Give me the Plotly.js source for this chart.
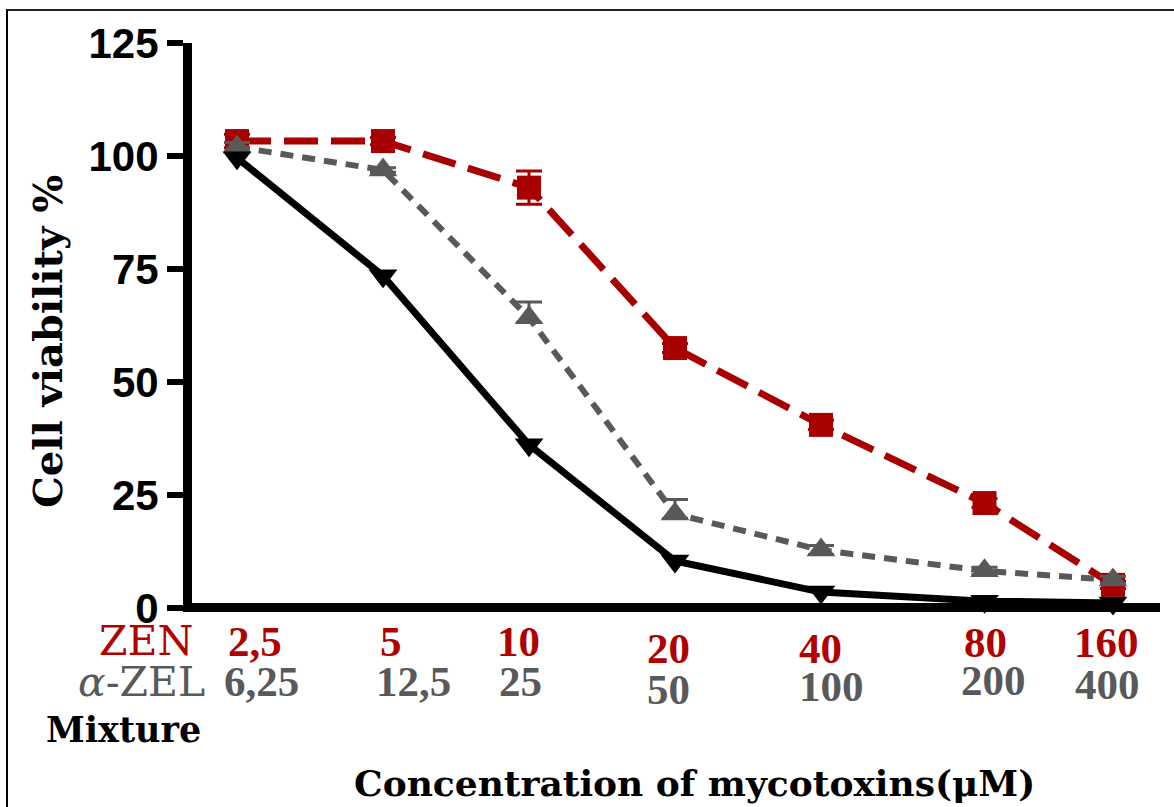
<!DOCTYPE html>
<html>
<head>
<meta charset="utf-8">
<script src="https://cdn.plot.ly/plotly-3.0.1.min.js"></script>
<style>
  html, body { margin: 0; padding: 0; background: #ffffff; }
  #frame { position: absolute; left: 6px; top: 9px; width: 1300px; height: 900px;
           border-left: 2px solid #000; border-top: 2px solid #222; z-index: 0; }
  #chart { position: absolute; left: 0; top: 0; width: 1174px; height: 807px; z-index: 1; }
</style>
</head>
<body>
<div id="frame"></div>
<div id="chart"></div>
<script>
// ---- data ----
const xPlot = [1, 2, 3, 4, 5, 6.12, 7];            // plotting positions of the 7 doses
const zenLabels = ['2,5', '5', '10', '20', '40', '80', '160'];
const zelLabels = ['6,25', '12,5', '25', '50', '100', '200', '400'];
const zenViability = [103.3, 103.3, 93.0, 57.5, 40.5, 23.2, 5.1];
const zenErr       = [1.5, 0.8, 3.7, 1.0, 1.0, 1.0, 0.8];
const zelViability = [102.0, 96.9, 64.2, 20.8, 12.8, 8.2, 6.2];
const zelErrUp     = [1.0, 0.5, 3.5, 3.2, 1.0, 0.8, 0.8];
const zelErrDown   = [1.0, 0.5, 1.0, 1.0, 1.0, 0.8, 0.8];
const mixViability = [99.6, 73.5, 36.1, 10.4, 3.5, 1.5, 1.1];
const yTicks = [0, 25, 50, 75, 100, 125];

// ---- styling / layout constants ----
const RED = '#a80000', LABELRED = '#b00000', GRAY = '#595959', BLACK = '#000000';
const L = 192, R = 14, T = 43, B = 195, WIDTH = 1174, HEIGHT = 807;
const W = WIDTH - L - R, H = HEIGHT - T - B;
const px = v => (v - L) / W;
const py = v => (T + H - v) / H;

const traces = [
  { x: xPlot, y: zenViability, name: 'ZEN', type: 'scatter', mode: 'lines+markers', cliponaxis: false,
    line: { color: RED, width: 7, dash: '34px,13px' },
    marker: { symbol: 'square', size: 24, color: RED },
    error_y: { type: 'data', array: zenErr, visible: true, color: RED, thickness: 3, width: 13 } },
  { x: xPlot, y: zelViability, name: 'α-ZEL', type: 'scatter', mode: 'lines+markers', cliponaxis: false,
    line: { color: GRAY, width: 6, dash: '13px,9px' },
    marker: { symbol: 'triangle-up', size: 25, color: GRAY },
    error_y: { type: 'data', symmetric: false, array: zelErrUp, arrayminus: zelErrDown, visible: true,
               color: GRAY, thickness: 3, width: 13 } },
  { x: xPlot, y: mixViability, name: 'Mixture', type: 'scatter', mode: 'lines+markers', cliponaxis: false,
    line: { color: BLACK, width: 7 },
    marker: { symbol: 'triangle-down', size: 25, color: BLACK } }
];

const serif = 'DejaVu Serif, serif';
const numFont = 'Liberation Serif, Times New Roman, serif';
const redY = [641, 641, 641, 648, 648, 642, 642];
const redX = [255, 391, 518, 668, 820, 985, 1106];
const grayY = [681, 681, 681, 689, 686, 680, 684];
const grayX = [261, 413, 520, 668, 831, 993, 1107];

const annotations = [
  { text: '<b>Cell viability %</b>', textangle: -90, xref: 'paper', yref: 'paper', x: px(47), y: py(342),
    xanchor: 'center', yanchor: 'middle', showarrow: false, font: { family: serif, size: 40, color: BLACK } },
  { text: 'ZEN', xref: 'paper', yref: 'paper', x: px(146), y: py(641), xanchor: 'center', yanchor: 'middle',
    showarrow: false, font: { family: serif, size: 41, color: LABELRED } },
  { text: '<i>α</i>-ZEL', xref: 'paper', yref: 'paper', x: px(141), y: py(682), xanchor: 'center', yanchor: 'middle',
    showarrow: false, font: { family: serif, size: 41, color: GRAY } },
  { text: '<b>Mixture</b>', xref: 'paper', yref: 'paper', x: px(123), y: py(729), xanchor: 'center', yanchor: 'middle',
    showarrow: false, font: { family: serif, size: 35, color: BLACK } },
  { text: '<b>Concentration of mycotoxins(μM)</b>', xref: 'paper', yref: 'paper', x: px(694), y: py(783),
    xanchor: 'center', yanchor: 'middle', showarrow: false, font: { family: serif, size: 36, color: BLACK } }
];
zenLabels.forEach((t, i) => annotations.push({
  text: '<b>' + t + '</b>', xref: 'paper', yref: 'paper', x: px(redX[i]), y: py(redY[i]), xanchor: 'center', yanchor: 'middle',
  showarrow: false, font: { family: numFont, size: 43, color: LABELRED } }));
zelLabels.forEach((t, i) => annotations.push({
  text: '<b>' + t + '</b>', xref: 'paper', yref: 'paper', x: px(grayX[i]), y: py(grayY[i]), xanchor: 'center', yanchor: 'middle',
  showarrow: false, font: { family: numFont, size: 43, color: GRAY } }));

// x range chosen so that position 1 sits at pixel 237 with 146 px per step
const step = 146;
const xmin = 1 - (237 - L) / step;
const xmax = xmin + W / step;

const layout = {
  width: WIDTH, height: HEIGHT,
  margin: { l: L, r: R, t: T, b: B, pad: 0 },
  paper_bgcolor: 'rgba(0,0,0,0)', plot_bgcolor: 'rgba(0,0,0,0)',
  showlegend: false,
  xaxis: { range: [xmin, xmax], showgrid: false, zeroline: false, showline: false,
           showticklabels: false, ticks: '' },
  yaxis: { range: [-0.9, 125], tickvals: yTicks, ticktext: yTicks.map(String),
           showgrid: false, showline: true, linecolor: BLACK, linewidth: 9,
           zeroline: true, zerolinecolor: BLACK, zerolinewidth: 9,
           ticks: 'outside', ticklen: 16, tickwidth: 6, tickcolor: BLACK,
           tickfont: { family: 'Liberation Sans, Arial, sans-serif', size: 42, color: BLACK, weight: 'bold' } },
  annotations: annotations
};

Plotly.newPlot('chart', traces, layout, { displayModeBar: false, staticPlot: true });
</script>
</body>
</html>
